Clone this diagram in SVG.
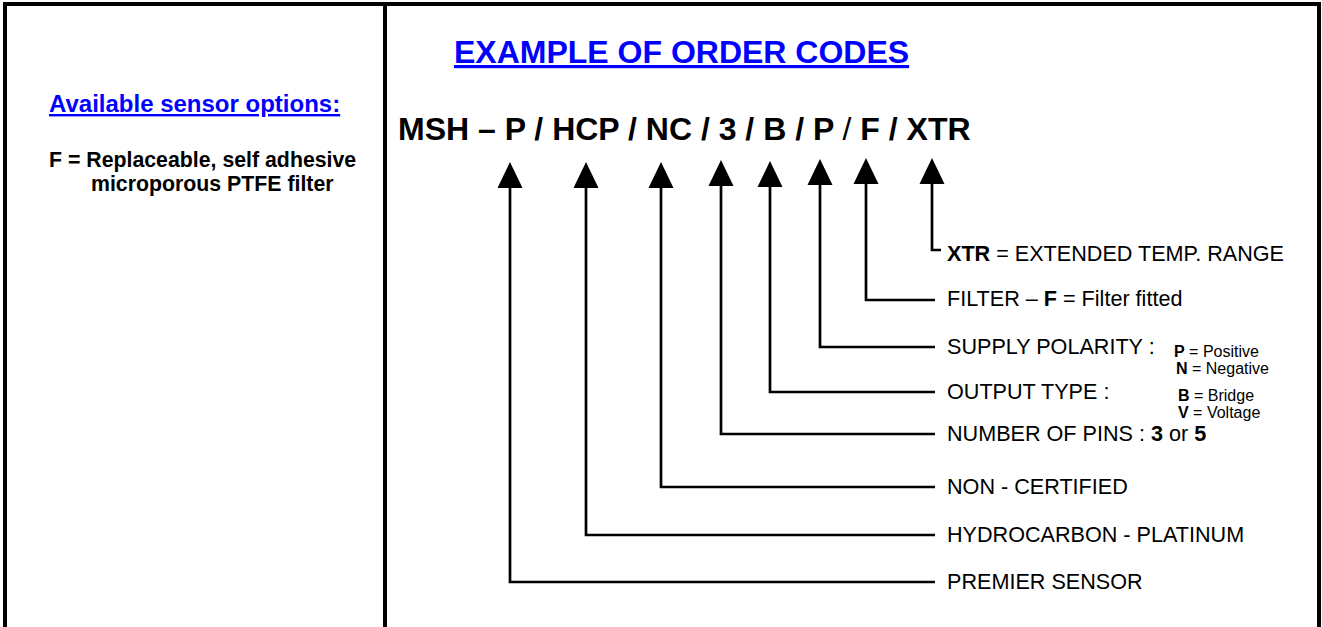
<svg xmlns="http://www.w3.org/2000/svg" width="1322" height="627" viewBox="0 0 1322 627">
<style>
text{font-family:"Liberation Sans",Arial,sans-serif;fill:#000}
.b{font-weight:bold}
.head{font-weight:bold;fill:#0000FF;text-decoration:underline}
.lbl{font-size:21.6px}
.sm{font-size:16px}
.frame{fill:none;stroke:#000;stroke-width:4}
.conn{fill:none;stroke:#000;stroke-width:2.7}
.arrow{fill:#000}
</style>
<rect width="1322" height="627" fill="#fff"/>
<g id="frame">
<path class="frame" d="M5,627 V4 H1319 V627 M385,4 V627"/>
</g>
<g id="options">
<text class="head" x="49" y="112" font-size="24">Available sensor options:</text>
<text class="b" x="49" y="167" font-size="21.3">F = Replaceable, self adhesive</text>
<text class="b" x="91" y="191" font-size="21.3">microporous PTFE filter</text>
</g>
<g id="title">
<text class="head" x="454" y="63" font-size="32">EXAMPLE OF ORDER CODES</text>
</g>
<g id="code">
<text class="b" x="398" y="140" font-size="32">MSH – P / HCP / NC / 3 / B / P <tspan font-weight="normal">/</tspan> F / XTR</text>
</g>
<g id="connectors">
<path class="conn" d="M510,186 V582 H935"/>
<path class="conn" d="M586,186 V535 H935"/>
<path class="conn" d="M661,186 V487 H935"/>
<path class="conn" d="M721,184 V434 H935"/>
<path class="conn" d="M770,185 V392 H935"/>
<path class="conn" d="M820,183 V347 H935"/>
<path class="conn" d="M866,182 V300 H935"/>
<path class="conn" d="M932,182 V250 H941"/>
<polygon class="arrow" points="510,162 497.5,188 522.5,188"/>
<polygon class="arrow" points="586,162 573.5,188 598.5,188"/>
<polygon class="arrow" points="661,162 648.5,188 673.5,188"/>
<polygon class="arrow" points="721,160 708.5,186 733.5,186"/>
<polygon class="arrow" points="770,161 757.5,187 782.5,187"/>
<polygon class="arrow" points="820,159 807.5,185 832.5,185"/>
<polygon class="arrow" points="866,158 853.5,184 878.5,184"/>
<polygon class="arrow" points="932,158 919.5,184 944.5,184"/>
</g>
<g id="xtr"><text class="lbl" x="947" y="261"><tspan class="b">XTR</tspan> = EXTENDED TEMP. RANGE</text></g>
<g id="filter"><text class="lbl" x="947" y="306">FILTER – <tspan class="b">F</tspan> = Filter fitted</text></g>
<g id="polarity">
<text class="lbl" x="947" y="354">SUPPLY POLARITY :</text>
<text class="sm" x="1174" y="357"><tspan class="b">P</tspan> = Positive</text>
<text class="sm" x="1176" y="374"><tspan class="b">N</tspan> = Negative</text>
</g>
<g id="output">
<text class="lbl" x="947" y="399">OUTPUT TYPE :</text>
<text class="sm" x="1178" y="401"><tspan class="b">B</tspan> = Bridge</text>
<text class="sm" x="1178" y="418"><tspan class="b">V</tspan> = Voltage</text>
</g>
<g id="pins"><text class="lbl" x="947" y="441">NUMBER OF PINS : <tspan class="b">3</tspan> or <tspan class="b">5</tspan></text></g>
<g id="cert"><text class="lbl" x="947" y="494">NON - CERTIFIED</text></g>
<g id="hydro"><text class="lbl" x="947" y="542">HYDROCARBON - PLATINUM</text></g>
<g id="premier"><text class="lbl" x="947" y="589">PREMIER SENSOR</text></g>
</svg>
